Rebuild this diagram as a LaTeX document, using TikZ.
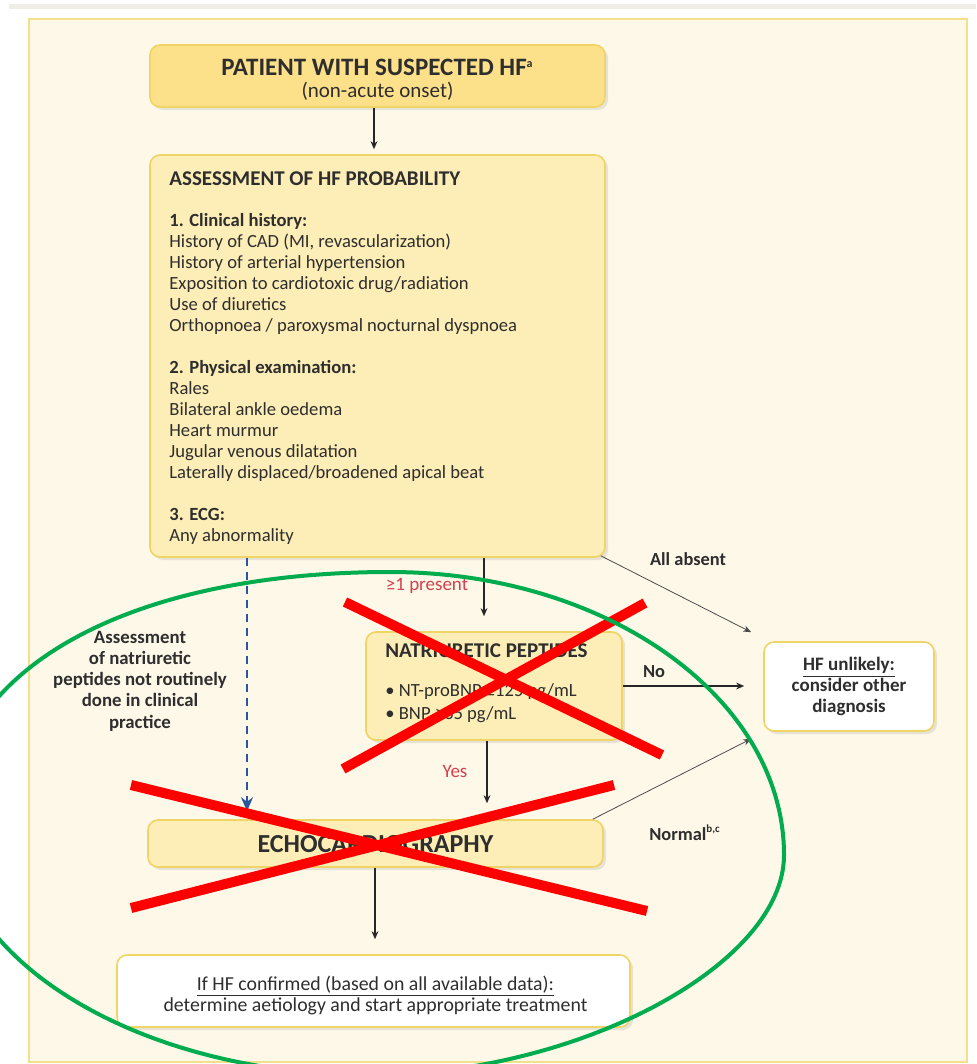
\documentclass[tikz,border=0pt]{standalone}
\usepackage{fontspec}
\setmainfont{Carlito}
\usetikzlibrary{arrows.meta,shadows}
\definecolor{panelfill}{HTML}{FDF8E8}
\definecolor{panelline}{HTML}{F2E08A}
\definecolor{bandgray}{HTML}{EFEEE6}
\definecolor{boxA}{HTML}{FDE08A}
\definecolor{boxB}{HTML}{FDEDB6}
\definecolor{boxline}{HTML}{F0D466}
\definecolor{txt}{HTML}{2E2E2E}
\definecolor{redtxt}{HTML}{D2404E}
\definecolor{dashblue}{HTML}{2A56A0}
\definecolor{crossred}{HTML}{FF0000}
\definecolor{circgreen}{HTML}{00AC4E}
\tikzset{
  box/.style={draw=boxline, line width=0.8pt, rounded corners=5pt,
    drop shadow={opacity=0.18, shadow xshift=1.5pt, shadow yshift=-1.5pt}},
  ybox/.style={box, fill=boxB},
  obox/.style={box, fill=boxA},
  wbox/.style={box, fill=white},
  body/.style={text=txt, font=\fontsize{9.3}{10.5}\selectfont, inner sep=0pt},
  arr/.style={draw=black!85, line width=0.8pt, -{Stealth[length=4pt,width=3.4pt]}},
  thinarr/.style={draw=black!70, line width=0.4pt, -{Stealth[length=4pt,width=3.2pt]}},
  crossline/.style={draw=crossred, line width=5pt},
  lbl/.style={text=txt, font=\bfseries\fontsize{9.2}{10.6}\selectfont, inner sep=0pt},
  redlbl/.style={text=redtxt, font=\fontsize{9.5}{10.6}\selectfont, inner sep=0pt}
}
\begin{document}
\begin{tikzpicture}[x=0.5pt,y=-0.5pt]
\useasboundingbox (0,0) rectangle (976,1064);
\clip (0,0) rectangle (976,1064);
\fill[white] (0,0) rectangle (976,1064);
\fill[bandgray] (9,4) rectangle (976,9);
\draw[panelline, fill=panelfill, line width=1pt] (29,19) rectangle (967,1062);

% boxes
\node[obox, minimum width=227.5pt, minimum height=31pt] (b1) at (377.5,76) {};
\node[text=txt, inner sep=0pt, anchor=base, font=\bfseries\fontsize{12.5}{13}\selectfont] (b1t) at (377.5,76)
  {PATIENT WITH SUSPECTED HF\textsuperscript{\fontsize{6}{6}\selectfont a}};
\node[text=txt, inner sep=0pt, anchor=base, font=\fontsize{10.5}{12}\selectfont] (b1s) at (377.5,98)
  {(non-acute onset)};
\node[ybox, minimum width=227.5pt, minimum height=201pt] (b2) at (377.5,356) {};
\node[body, anchor=north west, align=left] (b2t) at (169,171)
  {{\bfseries\fontsize{10.5}{10.5}\selectfont ASSESSMENT OF HF PROBABILITY}\\[10.25pt]
   \textbf{1. Clinical history:}\\
   History of CAD (MI, revascularization)\\
   History of arterial hypertension\\
   Exposition to cardiotoxic drug/radiation\\
   Use of diuretics\\
   Orthopnoea / paroxysmal nocturnal dyspnoea\\[10.5pt]
   \textbf{2. Physical examination:}\\
   Rales\\
   Bilateral ankle oedema\\
   Heart murmur\\
   Jugular venous dilatation\\
   Laterally displaced/broadened apical beat\\[10.5pt]
   \textbf{3. ECG:}\\
   Any abnormality};
\node[ybox, minimum width=128pt, minimum height=54pt] (np) at (494,686) {};
\node[body, anchor=north west, align=left, font=\fontsize{9.3}{11.5}\selectfont] (npt) at (385,643)
  {{\bfseries\fontsize{10.5}{11.5}\selectfont NATRIURETIC PEPTIDES}\\[8.25pt]
   • NT-proBNP ≥125 pg/mL\\
   • BNP ≥35 pg/mL};
\node[wbox, minimum width=85pt, minimum height=44.5pt, align=center, text=txt,
  font=\bfseries\fontsize{9.5}{10.5}\selectfont, inner sep=0pt] (hf) at (849,686.5)
  {\underline{HF unlikely:}\\consider other\\diagnosis};
\node[ybox, minimum width=227.5pt, minimum height=23.5pt] (echo) at (375.5,843.5) {};
\node[text=txt, font=\bfseries\fontsize{13}{14}\selectfont, inner sep=0pt, anchor=base] (echot) at (375.5,852) {ECHOCARDIOGRAPHY};
\node[wbox, minimum width=256.5pt, minimum height=36pt] (fin) at (373.5,991) {};
\node[text=txt, align=center, font=\fontsize{9.9}{10.5}\selectfont, inner sep=0pt] (fint) at (375.5,995)
  {\underline{If HF confirmed (based on all available data):}\\
   determine aetiology and start appropriate treatment};

% side text
\node[lbl, align=center, font=\bfseries\fontsize{9.4}{10.6}\selectfont] (side) at (140,681)
  {Assessment\\of natriuretic\\peptides not routinely\\done in clinical\\practice};

% labels
\node[redlbl] (l1) at (427,586) {≥1 present};
\node[redlbl] (lyes) at (455,771) {Yes};
\node[lbl] (lall) at (688,559) {All absent};
\node[lbl] (lno) at (654,672) {No};
\node[lbl] (lnorm) at (685,833) {Normal\textsuperscript{\fontsize{5.5}{5.5}\selectfont b,c}};

% connectors
\coordinate (xnp) at (484,0);
\coordinate (xdash) at (247,0);
\draw[arr, shorten >=2.5pt] (b1.south -| 374,0) -- (b2.north -| 374,0);
\draw[arr, shorten >=7.5pt] (b2.south -| xnp) -- (np.north -| xnp);
\draw[arr, shorten >=8pt] (np.south -| 487,0) -- (echo.north -| 487,0);
\draw[arr, shorten >=7.5pt] (echo.south -| 375,0) -- (fin.north -| 375,0);
\draw[arr, shorten >=9.5pt] (np.east) -- (np.east -| hf.west);
\draw[dashblue, line width=0.8pt, dash pattern=on 4pt off 3pt,
  -{Stealth[length=7pt,width=6pt]}, shorten >=4pt] (b2.south -| xdash) -- (echo.north -| xdash);
\draw[thinarr] ([xshift=-2.5pt,yshift=1pt]b2.south east) -- ([xshift=-6pt,yshift=4.5pt]hf.north west);
\draw[thinarr] ([xshift=-5.5pt]echo.north east) -- ([xshift=-6pt,yshift=-3.5pt]hf.south west);

% red crosses
\draw[crossline] (345,602) -- (662,755);
\draw[crossline] (645,603) -- (343,769);
\draw[crossline] (131,785) -- (647,911);
\draw[crossline] (131,908) -- (614,785);

% green loop
\coordinate (gT) at (390,572);
\coordinate (gR) at (784,855);
\coordinate (gB) at (370,1075);
\coordinate (gL) at (-50,820);
\draw[circgreen, line width=2pt]
  (gT) .. controls (608,572) and (784,699) .. (gR)
       .. controls (784,965) and (577,1075) .. (gB)
       .. controls (139,1075) and (-50,960) .. (gL)
       .. controls (-50,671) and (126,572) .. (gT) -- cycle;
\end{tikzpicture}
\end{document}
